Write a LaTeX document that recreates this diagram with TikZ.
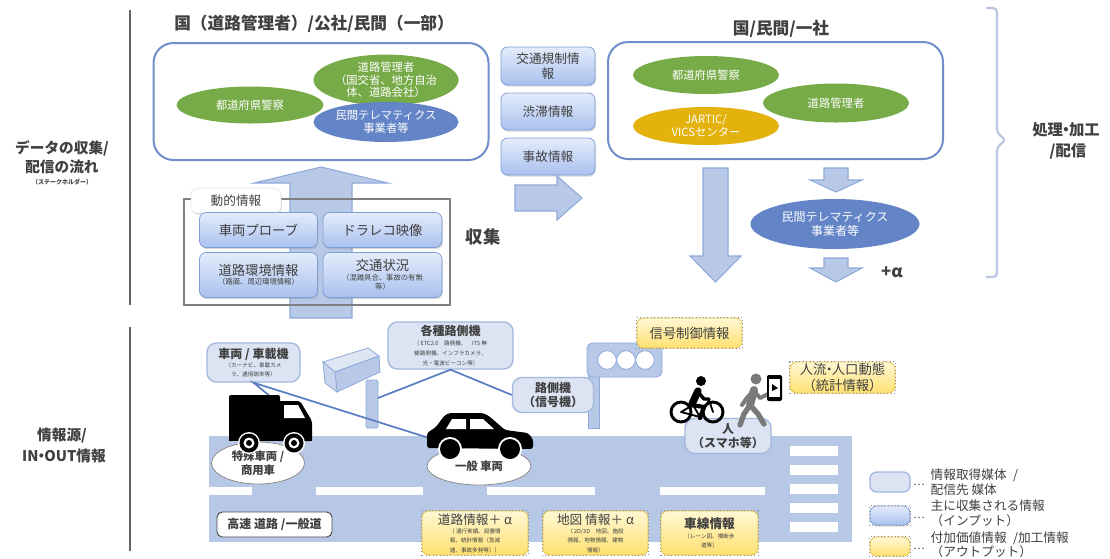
\documentclass[tikz,border=0pt]{standalone}
\usepackage{fontspec}
\setmainfont{Noto Sans CJK JP}
\usetikzlibrary{shapes.geometric,shadows}
\newcommand\jfs[2]{\fontsize{#1}{#2}\selectfont}
\newcommand\ndot{\kern-0.3em・\kern-0.3em}
\definecolor{txt}{HTML}{404040}
\definecolor{panelblue}{HTML}{6F8FCB}
\definecolor{ovgreen}{HTML}{77AB48}
\definecolor{ovblue}{HTML}{6384C6}
\definecolor{ovgold}{HTML}{E3B20C}
\definecolor{intop}{HTML}{E4ECFB}
\definecolor{inbot}{HTML}{A9C1EE}
\definecolor{inedge}{HTML}{7F9FD6}
\definecolor{arrowfill}{HTML}{B8C9E8}
\definecolor{arrowedge}{HTML}{8EAADB}
\definecolor{road}{HTML}{B7C7E6}
\definecolor{medfill}{HTML}{DCE4F3}
\definecolor{mededge}{HTML}{A2B7DE}
\definecolor{outtop}{HTML}{FFF8D4}
\definecolor{outbot}{HTML}{FFE070}
\definecolor{outedge}{HTML}{E3C34A}
\definecolor{wire}{HTML}{5A7EC3}
\definecolor{framegray}{HTML}{7F7F7F}
\definecolor{walkgray}{HTML}{7A7A7A}
\definecolor{bracecol}{HTML}{B9C6DF}
\definecolor{camtop}{HTML}{DFE6F3}
\definecolor{camend}{HTML}{C7D4EC}
\begin{document}
\begin{tikzpicture}[x=0.75pt,y=-0.75pt,
  sz/.style 2 args={minimum width={(#1)*0.75pt}, minimum height={(#2)*0.75pt}, inner sep=0pt},
  panel/.style={draw=panelblue, line width=1.5pt, fill=white, rounded corners=15pt},
  oval/.style={ellipse, inner sep=0pt, text=white, align=center, font=\jfs{8.5}{9.5}},
  ovg/.style={oval, fill=ovgreen},
  ovb/.style={oval, fill=ovblue},
  ovy/.style={oval, fill=ovgold},
  inbox/.style={rounded corners=5pt, draw=inedge, line width=0.6pt, top color=intop, bottom color=inbot,
    align=center, text=txt, drop shadow={shadow xshift=0.6pt, shadow yshift=-1.2pt, opacity=0.3}},
  tabbox/.style={rounded corners=5pt, fill=white, draw=black!10, align=center, text=txt,
    drop shadow={shadow xshift=0.6pt, shadow yshift=-1.2pt, opacity=0.25}},
  medbox/.style={rounded corners=7pt, draw=mededge, line width=1pt, fill=medfill, align=center, text=txt},
  outbox/.style={rounded corners=5pt, draw=outedge, line width=0.6pt, top color=outtop, bottom color=outbot,
    align=center, text=txt},
  dotframe/.style={draw=black!45, dotted, line width=0.6pt},
  fatarrow/.style={fill=arrowfill, draw=arrowedge, line width=0.8pt},
  wirestyle/.style={draw=wire, line width=1.3pt},
  heading/.style={font=\jfs{12.5}{15}\bfseries, text=txt},
  sidelabel/.style={font=\jfs{11}{14}\bfseries, text=txt, align=center},
  vehlabel/.style={ellipse, draw=black!45, line width=0.6pt, fill=white, inner sep=0pt, align=center,
    text=txt, font=\jfs{8.5}{10.5}\bfseries},
  equip/.style={fill=arrowfill, draw=arrowedge, line width=0.6pt},
  legendtext/.style={anchor=west, text=txt, font=\jfs{9.5}{11}}
]
\fill[white] (0,0) rectangle (1110,558);
\useasboundingbox (0,0) rectangle (1110,558);

% ---------- dividers and row labels ----------
\draw[framegray!80!black, line width=2pt] (130,10) -- (130,305);
\draw[framegray!80!black, line width=2pt] (130,327) -- (130,551);
\node[sidelabel] (flowA) at (62,148) {データの収集/};
\node[sidelabel] (flowB) at (62,167) {配信の流れ};
\node[font=\jfs{4.5}{6}\bfseries, text=txt] (flowC) at (62,182) {（ステークホルダー）};
\node[sidelabel] (srcA) at (62,436) {情報源/};
\node[sidelabel] (srcB) at (64,456) {IN\ndot OUT情報};

% ---------- collection side ----------
\node[heading] (h1) at (314,24) {国（道路管理者）/公社/民間（一部）};
\node[panel, sz={335}{117}] (p1) at (321,101.5) {};
\node[ovg, sz={147}{37}] (e1) at (250,105) {都道府県警察};
\node[ovg, sz={145}{40}] (e2) at (386,80) {道路管理者\\（国交省、地方自治\\体、道路会社）};
\node[ovb, sz={145}{40}] (e3) at (386,122) {民間テレマティクス\\事業者等};

% upward flow into the panel
\draw[fatarrow] (290,318) -- (290,183) -- (254,183) -- (321,167) -- (388,183) -- (352,183) -- (352,318) -- cycle;

% dynamic information group
\draw[framegray, line width=1.8pt] (184,199) rectangle (450,305);
\node[tabbox, sz={90}{25}, font=\jfs{9.5}{11}] (dyn) at (236,200.5) {動的情報};
\node[inbox, sz={118}{35}, font=\jfs{10}{12}] (probe) at (258.5,230) {車両プローブ};
\node[inbox, sz={119}{35}, font=\jfs{10}{12}] (dashcam) at (382.5,230) {ドラレコ映像};
\node[inbox, sz={118}{45}, font=\jfs{5.5}{7}] (roadenv) at (258.5,275)
  {{\jfs{10}{12}道路環境情報}\\（路面、周辺環境情報）};
\node[inbox, sz={119}{45}, font=\jfs{5.5}{7}] (traffic) at (382.5,275)
  {{\jfs{10}{12}交通状況}\\（混雑具合、事故の有無\\等）};
\node[font=\jfs{13}{15}\bfseries, text=txt] (collect) at (483,237) {収集};

% information handed over
\node[inbox, sz={94}{38}, font=\jfs{9.5}{11.5}] (reg) at (548,66) {交通規制情\\報};
\node[inbox, sz={94}{37}, font=\jfs{9.5}{11.5}] (jam) at (548,111.5) {渋滞情報};
\node[inbox, sz={94}{37}, font=\jfs{9.5}{11.5}] (acc) at (548,156.5) {事故情報};
\draw[fatarrow] (515,185) -- (557,185) -- (557,176) -- (582,198) -- (557,220) -- (557,211) -- (515,211) -- cycle;

% ---------- processing side ----------
\node[heading] (h2) at (781,29) {国/民間/一社};
\node[panel, sz={335}{117}] (p2) at (775.5,100.5) {};
\node[ovg, sz={146}{38}] (f1) at (706,75) {都道府県警察};
\node[ovg, sz={146}{39}] (f2) at (836,103) {道路管理者};
\node[ovy, sz={146}{38}] (f3) at (706,126) {JARTIC/\\VICSセンター};

\draw[fatarrow] (703,168) -- (728,168) -- (728,256) -- (741,256) -- (715.5,282) -- (690,256) -- (703,256) -- cycle;
\draw[fatarrow] (824,168) -- (848,168) -- (848,180) -- (862,180) -- (836,192) -- (810,180) -- (824,180) -- cycle;
\node[ovb, sz={169}{50}, font=\jfs{9}{11}] (f4) at (835,224) {民間テレマティクス\\事業者等};
\draw[fatarrow] (824,258) -- (848,258) -- (848,268) -- (862,268) -- (836,282) -- (810,268) -- (824,268) -- cycle;
\node[font=\jfs{12.5}{14}\bfseries, text=txt] (plus) at (892,272) {+α};

\draw[bracecol, line width=1.6pt, rounded corners=3pt]
  (986,8) -- (997,8) -- (997,133) -- (1006,140) -- (997,147) -- (997,277) -- (986,277);
\node[sidelabel, font=\jfs{11.5}{14}\bfseries] (procA) at (1066,130) {処理\ndot 加工};
\node[sidelabel, font=\jfs{11.5}{14}\bfseries] (procB) at (1068,151) {/配信};

% ---------- road scene ----------
\fill[road] (209,436) rectangle (852,542);
\foreach \a/\b in {209/252, 316/423, 487/595, 660/765}
  \fill[white] (\a,487) rectangle (\b,495);
\foreach \y in {446,465,484,503,522}
  \fill[white] (790,\y) rectangle (838,\y+10);

% roadside camera on its pole
\filldraw[equip, rounded corners=1pt] (366,380) rectangle (378,428);
\filldraw[equip, fill=camtop] (323,362) -- (368,348) -- (379,356) -- (335,372) -- cycle;
\filldraw[equip] (335,372) -- (379,356) -- (380,372) -- (337,392) -- cycle;
\filldraw[equip, fill=camend] (323,362) -- (335,372) -- (337,392) -- (325,383) -- cycle;

% traffic signal
\filldraw[equip] (588,370) rectangle (599,428);
\filldraw[equip, rounded corners=4pt] (587,343) rectangle (662,377);
\foreach \cx in {607,626,645}
  \filldraw[fill=white, draw=arrowedge, line width=0.6pt] (\cx,360) circle (9.3);

% media boxes
\node[medbox, sz={93}{39}, font=\jfs{4.2}{7}] (vb) at (253.5,362.5)
  {{\jfs{9}{11}\bfseries 車両 / 車載機}\\（カーナビ、車載カメ\\ラ、通信端末等）};
\node[medbox, sz={125}{47}, font=\jfs{4.2}{7.5}] (rs) at (450.5,345.5)
  {{\jfs{9}{11}\bfseries 各種路側機}\\（ ETC2.0\quad 路側機、\quad ITS 無\\線路側機、インフラカメラ、\\光・電波ビーコン等）};
\node[medbox, sz={81}{35}, font=\jfs{9}{11}\bfseries] (sig) at (553,395) {路側機\\（信号機）};
\node[medbox, sz={86}{35}, font=\jfs{9}{11}\bfseries] (person) at (728,436) {人\\（スマホ等）};

% links from the devices
\coordinate (truckTop) at (271,397);
\coordinate (carRear) at (429,438);
\coordinate (camPole) at (378,398);
\draw[wirestyle] (truckTop) -- (vb.south) -- (carRear);
\draw[wirestyle] (camPole) -- (rs.south) -- (sig.west);

% vehicle labels on the road
\node[vehlabel, sz={93}{42}] (special) at (258,463) {特殊車両 /\\商用車};
\node[vehlabel, sz={104}{38}] (general) at (479,466) {一般 車両};
\node[draw=black!70, line width=0.7pt, rounded corners=4pt, fill=white, sz={115}{25},
  font=\jfs{9}{11}\bfseries, text=txt] (hw) at (274.5,524.5) {高速 道路 /一般道};

% truck
\fill[black, rounded corners=1.5pt] (229,395) rectangle (280,428);
\fill[black, rounded corners=1.5pt] (277,401) -- (300,401) -- (312,421) -- (312,441) -- (277,441) -- cycle;
\fill[white] (284,405) -- (298,405) -- (305,418) -- (284,418) -- cycle;
\fill[black] (229,426) rectangle (312,441);
\foreach \wx in {249,294} {
  \fill[white] (\wx,443) circle (11);
  \fill[black] (\wx,443) circle (9.5);
  \fill[white] (\wx,443) circle (5.5);
  \fill[black] (\wx,443) circle (3);
}

% car
\fill[black, rounded corners=2pt] (427,448) -- (427,433) -- (436,427) -- (444,416) -- (449,413) -- (483,413)
  -- (489,416) -- (505,430) -- (528,433) -- (533,439) -- (533,449) -- cycle;
\fill[white] (452,419) -- (466,419) -- (466,429) -- (446,429) -- cycle;
\fill[white] (470,419) -- (483,419) -- (494,429) -- (470,429) -- cycle;
\foreach \wx in {450,510} {
  \fill[white] (\wx,449) circle (12);
  \fill[black] (\wx,449) circle (10);
}

% cyclist
\begin{scope}[line cap=round, line join=round]
  \draw[black, line width=2.2pt] (681,412) circle (10);
  \draw[black, line width=2.2pt] (713,412) circle (10);
  \draw[black, line width=1.4pt] (681,412) -- (693,405) -- (700,417) -- cycle;
  \draw[black, line width=1.4pt] (700,417) -- (709,400) -- (713,412);
  \fill[black] (701,381) circle (5);
  \draw[black, line width=5.5pt] (698,391) -- (692,404);
  \draw[black, line width=2.6pt] (698,392) -- (704,399) -- (709,399);
  \draw[black, line width=3.2pt] (692,405) -- (704,407) -- (700,418);
\end{scope}

% pedestrian with a phone
\begin{scope}[line cap=round, line join=round]
  \fill[walkgray] (756,379) circle (5.5);
  \draw[walkgray, line width=6pt] (754,390) -- (750,405);
  \draw[walkgray, line width=4pt] (750,405) -- (744,414) -- (740,425);
  \draw[walkgray, line width=4pt] (750,405) -- (758,414) -- (764,424);
  \draw[walkgray, line width=3pt] (754,391) -- (760,398) -- (768,394);
  \draw[walkgray, line width=3pt] (753,391) -- (746,399) -- (742,405);
  \fill[black, rounded corners=1.5pt] (767,375) rectangle (782,401);
  \fill[white] (769,379) rectangle (780,397);
  \fill[black] (772,384) -- (778,388) -- (772,391) -- cycle;
\end{scope}

% value-added outputs
\node[outbox, sz={105}{30}, font=\jfs{10}{12}] (sigctl) at (689.5,333) {信号制御情報};
\node[outbox, sz={105}{31}, font=\jfs{10}{12}] (flow) at (842.5,377.5) {人流\ndot 人口動態\\（統計情報）};
\node[outbox, sz={106}{44}, font=\jfs{4.2}{7}] (roadinfo) at (475,533)
  {{\jfs{9.5}{11}道路情報＋ α}\\（ 通行実績、設置情\\報、統計情報（急減\\速、事故多発等））};
\node[outbox, sz={105}{44}, font=\jfs{4.2}{7}] (mapinfo) at (595.5,533)
  {{\jfs{9.5}{11}地図 情報＋ α}\\（ 2D/3D\quad 地図、施設\\情報、地物情報、建物\\情報）};
\node[outbox, sz={97}{44}, font=\jfs{4.2}{7}] (laneinfo) at (709.5,533)
  {{\jfs{9.5}{11}\bfseries 車線情報}\\（レーン図、横断歩\\道等）};

% legend
\node[medbox, rounded corners=5pt, sz={40}{20}] (lg1) at (890,482) {};
\node[inbox, sz={40}{19}] (lg2) at (890,515.5) {};
\node[outbox, sz={40}{19}] (lg3) at (890,546.5) {};
\node[text=txt, font=\jfs{8}{9}] (d1) at (919,485) {…};
\node[text=txt, font=\jfs{8}{9}] (d2) at (919,518) {…};
\node[text=txt, font=\jfs{8}{9}] (d3) at (919,549) {…};
\node[legendtext] (t1) at (926,475) {情報取得媒体\enspace/};
\node[legendtext] (t2) at (926,490) {配信先 媒体};
\node[legendtext] (t3) at (926,506) {主に収集される情報};
\node[legendtext] (t4) at (926,521) {（インプット）};
\node[legendtext] (t5) at (926,538) {付加価値情報\enspace/加工情報};
\node[legendtext] (t6) at (926,552) {（アウトプット）};

\foreach \n in {sigctl,flow,roadinfo,mapinfo,laneinfo,lg2,lg3}
  \draw[dotframe] (\n.south west) rectangle (\n.north east);
\end{tikzpicture}
\end{document}
